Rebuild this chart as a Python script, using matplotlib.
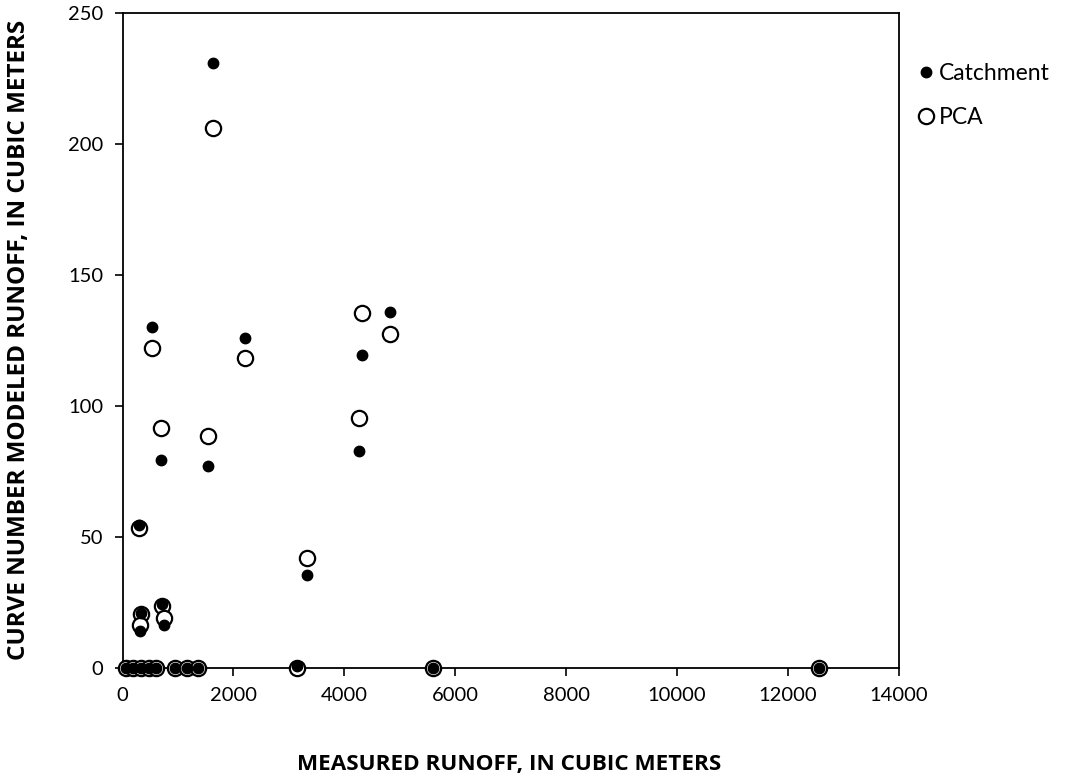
import matplotlib
matplotlib.use("Agg")
import matplotlib.pyplot as plt
from matplotlib.lines import Line2D

plt.rcParams['font.family'] = ['Lato', 'DejaVu Sans']

# measured runoff (m3) and the two modeled series
measured = [1640, 540, 2200, 4820, 4310, 4260, 690, 1550, 3330, 300, 330, 310, 720, 740,
            3150, 5590, 12550, 60, 180, 330, 470, 600, 950, 1160, 1360]
catchment = [231, 130, 126, 136, 119.5, 83, 79.5, 77, 35.5, 54.5, 21, 14, 24.5, 16.5,
             0.8, 0, 0, 0, 0, 0, 0, 0, 0, 0, 0]
pca = [206, 122, 118.5, 127.5, 135.5, 95.5, 91.5, 88.5, 42, 53.5, 20.5, 16.5, 23.5, 19,
       0, 0, 0, 0, 0, 0, 0, 0, 0, 0, 0]

fig = plt.figure(figsize=(10.71, 7.82), dpi=100)
ax = fig.add_axes([0.1144, 0.1458, 0.7250, 0.8376])

ax.plot(measured, pca, 'o', ms=11, mfc='white', mec='black', mew=1.6, ls='none',
        clip_on=False, zorder=3)
ax.plot(measured, catchment, 'o', ms=7.5, mfc='black', mec='black', ls='none',
        clip_on=False, zorder=4)

ax.set_xlim(0, 14000)
ax.set_ylim(0, 250)
ax.set_xticks(range(0, 14001, 2000))
ax.set_yticks(range(0, 251, 50))
ax.tick_params(direction='out', length=6, width=1.2, labelsize=14.5, pad=8)
for s in ax.spines.values():
    s.set_linewidth(1.3)

fig.text(0.475, 0.022, 'MEASURED RUNOFF, IN CUBIC METERS', ha='center', va='center',
         fontsize=16.2, fontweight='bold', family=['Open Sans', 'DejaVu Sans'])
fig.text(0.018, 0.565, 'CURVE NUMBER MODELED RUNOFF, IN CUBIC METERS', ha='center',
         va='center', rotation=90, fontsize=17.5, fontweight='bold',
         family=['Open Sans', 'DejaVu Sans'])

handles = [Line2D([], [], marker='o', ls='none', ms=7.5, mfc='black', mec='black'),
           Line2D([], [], marker='o', ls='none', ms=11, mfc='white', mec='black', mew=1.6)]
fig.legend(handles, ['Catchment', 'PCA'], loc='upper left', bbox_to_anchor=(0.836, 0.946),
           frameon=False, fontsize=16.5, handletextpad=0.1, labelspacing=1.0,
           handlelength=0.9)

fig.savefig('out.png', dpi=100)
